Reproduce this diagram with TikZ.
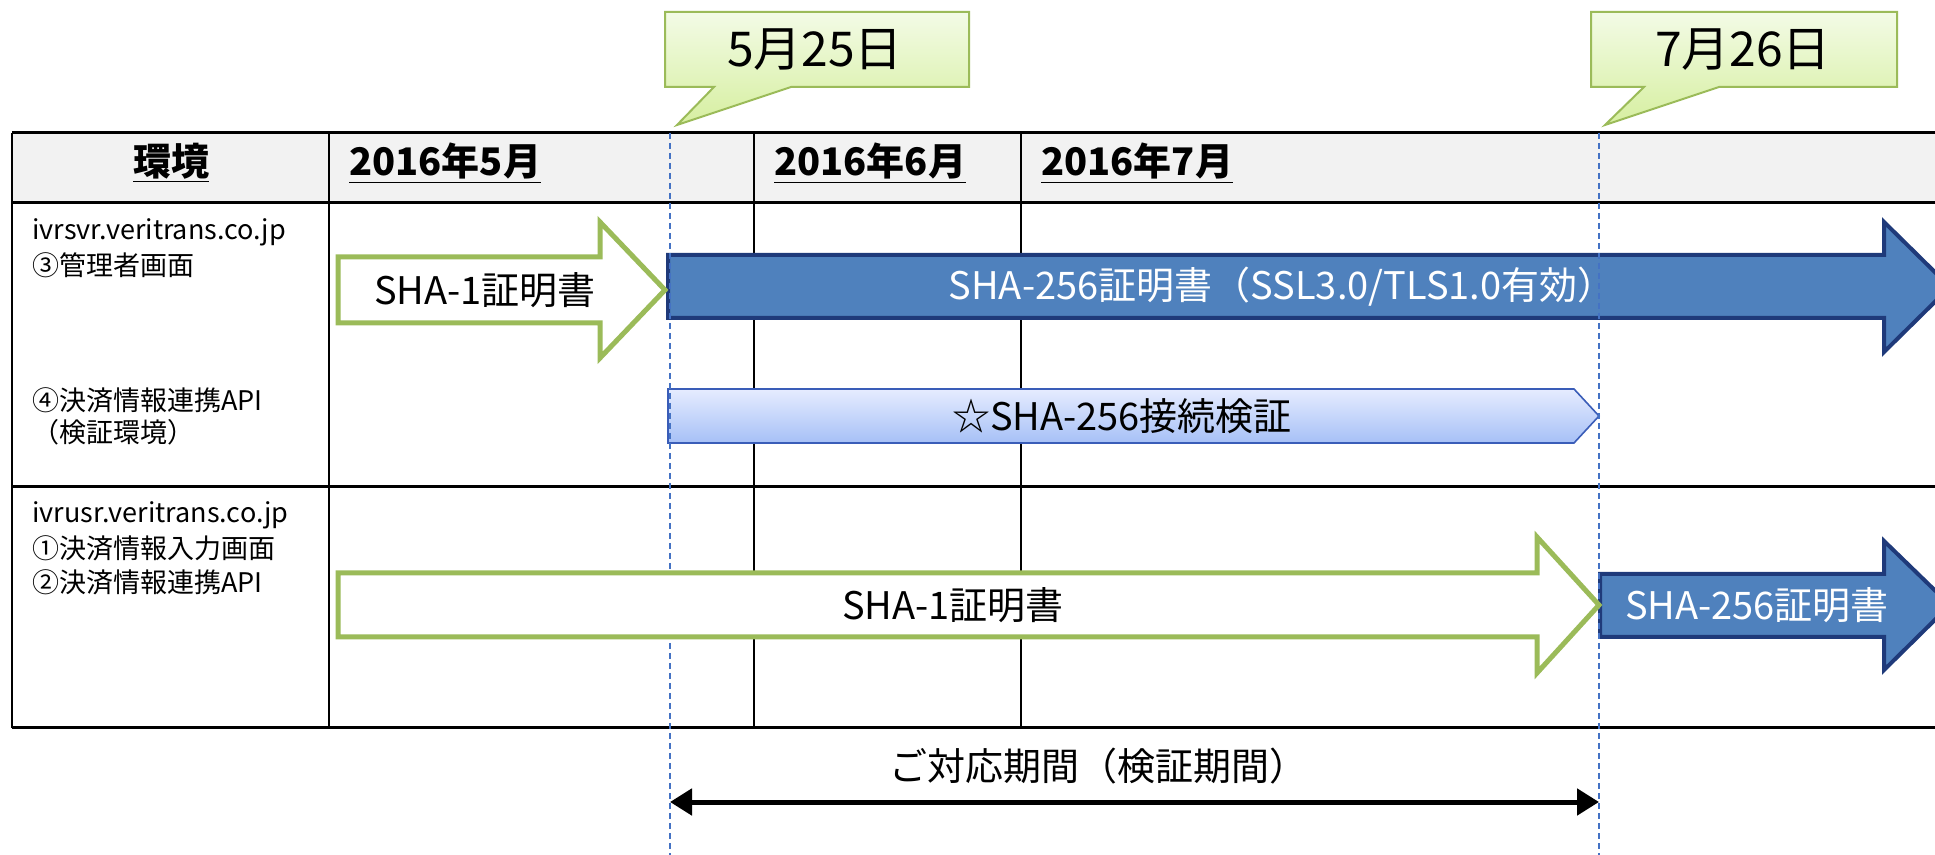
\documentclass[tikz,border=0pt]{standalone}
\usepackage{fontspec}
\setmainfont{Noto Sans CJK JP}
\usetikzlibrary{arrows.meta}

\definecolor{grnline}{HTML}{9BBB59}
\definecolor{bluefill}{HTML}{4F81BD}
\definecolor{blueline}{HTML}{1F3A7A}
\definecolor{dashblue}{HTML}{4472C4}
\definecolor{hdrgray}{HTML}{F2F2F2}
\definecolor{calltop}{HTML}{F3FBE6}
\definecolor{callbot}{HTML}{D6EFA0}
\definecolor{testtop}{HTML}{E6ECFF}
\definecolor{testbot}{HTML}{A6C0F6}
\definecolor{testline}{HTML}{3A5DB8}

\tikzset{
  oldcert/.style={draw=grnline, line width=2.5pt, fill=white},
  newcert/.style={draw=blueline, line width=2pt, fill=bluefill},
  testbar/.style={draw=testline, line width=0.8pt, top color=testtop, bottom color=testbot},
  datebox/.style={draw=grnline, line width=1pt, top color=calltop, bottom color=callbot},
  datetext/.style={font=\fontsize{24}{28}\selectfont},
  hdrtext/.style={font=\fontsize{19}{23}\selectfont\bfseries, inner sep=0pt},
  envtext/.style={font=\fontsize{13.5}{16}\selectfont, anchor=west, inner sep=0pt},
  bartext/.style={font=\fontsize{19}{23}\selectfont},
}

\begin{document}
\begin{tikzpicture}[x=0.5pt, y=-0.5pt]
    \useasboundingbox (0,0) rectangle (1935,855);

    % header band and grid
    \fill[hdrgray] (12,133) rectangle (1935,203);
    \draw[line width=1pt] (12,133) -- (12,728);
    \foreach \cx in {329,754,1021}
        \draw[line width=1pt] (\cx,133) -- (\cx,728);
    \foreach \ry in {133,203,487,728}
        \draw[line width=1.5pt] (12,\ry) -- (1935,\ry);

    \node[hdrtext] (env) at (171,163) {\underline{環境}};
    \node[hdrtext, anchor=west] (may) at (349,163) {\underline{2016年5月}};
    \node[hdrtext, anchor=west] (jun) at (774,163) {\underline{2016年6月}};
    \node[hdrtext, anchor=west] (jul) at (1041,163) {\underline{2016年7月}};

    % date callouts
    \draw[datebox] (665,12) -- (969,12) -- (969,87) -- (791,87) -- (677,125) -- (714,87) -- (665,87) -- cycle;
    \node[datetext] (start) at (815,50) {5月25日};
    \draw[datebox] (1591,12) -- (1897,12) -- (1897,87) -- (1719,87) -- (1605,125) -- (1644,87) -- (1591,87) -- cycle;
    \node[datetext] (end) at (1743,50) {7月26日};

    % environments
    \node[envtext] (svr) at (32,232) {ivrsvr.veritrans.co.jp};
    \node[envtext] (svr3) at (32,265) {③管理者画面};
    \node[envtext] (svr4) at (32,400) {④決済情報連携API};
    \node[envtext] (svr4b) at (32,432) {（検証環境）};
    \node[envtext] (usr) at (32,515) {ivrusr.veritrans.co.jp};
    \node[envtext] (usr1) at (32,548) {①決済情報入力画面};
    \node[envtext] (usr2) at (32,582) {②決済情報連携API};

    % new certificates
    \draw[newcert] (668,255) -- (1884,255) -- (1884,222) -- (1950,287) -- (1884,352) -- (1884,318) -- (668,318) -- cycle;
    \draw[newcert] (1600,574) -- (1884,574) -- (1884,541) -- (1950,605) -- (1884,670) -- (1884,637) -- (1600,637) -- cycle;
    \draw[testbar] (668,389) -- (1574,389) -- (1599,416) -- (1574,443) -- (668,443) -- cycle;

    % switch dates
    \draw[dashblue, line width=0.6pt, dash pattern=on 3pt off 2pt] (670,133) -- (670,855);
    \draw[dashblue, line width=0.6pt, dash pattern=on 3pt off 2pt] (1599,133) -- (1599,855);

    % old certificates
    \draw[oldcert] (338,257) -- (600,257) -- (600,222) -- (665,290) -- (600,358) -- (600,323) -- (338,323) -- cycle;
    \draw[oldcert] (338,573) -- (1537,573) -- (1537,537) -- (1599,605) -- (1537,673) -- (1537,637) -- (338,637) -- cycle;

    \node[bartext] (sha1a) at (485,290) {SHA-1証明書};
    \node[bartext, text=white] (sha256a) at (1282,287) {SHA-256証明書（SSL3.0/TLS1.0有効）};
    \node[bartext] (verify) at (1122,416) {☆SHA-256接続検証};
    \node[bartext] (sha1b) at (953,605) {SHA-1証明書};
    \node[bartext, text=white] (sha256b) at (1757,605) {SHA-256証明書};

    % period
    \node[bartext] (period) at (1098,766) {ご対応期間（検証期間）};
    \coordinate (ps) at (670,802);
    \coordinate (pe) at (1599,802);
    \draw[{Triangle[length=11pt,width=13pt]}-{Triangle[length=11pt,width=13pt]}, line width=2.5pt] (ps) -- (pe);

\end{tikzpicture}
\end{document}
